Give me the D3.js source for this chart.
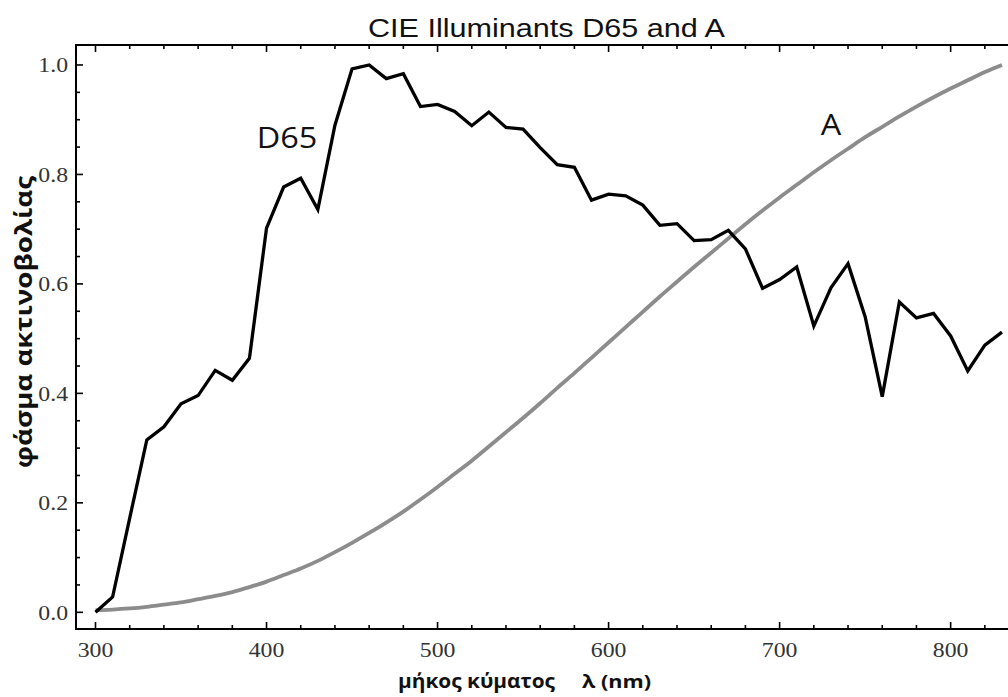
<!DOCTYPE html>
<html>
<head>
<meta charset="utf-8">
<script src="https://cdn.jsdelivr.net/npm/d3@7/dist/d3.min.js"></script>
<style>
  html, body { margin: 0; padding: 0; background: #fff; }
  svg { display: block; }
</style>
</head>
<body>
<svg id="chart" width="1008" height="697"></svg>
<script>
// ---- data ----
const wavelengths = [300,310,320,330,340,350,360,370,380,390,400,410,420,430,440,450,460,470,480,490,
  500,510,520,530,540,550,560,570,580,590,600,610,620,630,640,650,660,670,680,690,
  700,710,720,730,740,750,760,770,780,790,800,810,820,830];
const d65Values = [0.000,0.028,0.172,0.315,0.339,0.381,0.396,0.442,0.424,0.464,
  0.702,0.777,0.793,0.736,0.890,0.993,1.000,0.975,0.984,0.924,
  0.928,0.915,0.889,0.914,0.886,0.883,0.849,0.818,0.813,0.753,
  0.764,0.761,0.744,0.707,0.710,0.679,0.681,0.698,0.664,0.592,
  0.608,0.631,0.523,0.593,0.637,0.540,0.394,0.567,0.538,0.546,
  0.505,0.441,0.488,0.512];
const aValues = [0.004,0.005,0.007,0.010,0.014,0.018,0.024,0.030,0.037,0.046,
  0.056,0.068,0.080,0.094,0.110,0.127,0.145,0.164,0.184,0.206,
  0.229,0.253,0.277,0.303,0.329,0.355,0.382,0.410,0.437,0.465,
  0.493,0.521,0.549,0.577,0.604,0.631,0.657,0.683,0.709,0.734,
  0.758,0.781,0.804,0.826,0.847,0.868,0.887,0.906,0.924,0.941,
  0.957,0.972,0.987,1.000];
const xTickValues = [300,400,500,600,700,800];
const yTickValues = [0.0,0.2,0.4,0.6,0.8,1.0];
const titleText = "CIE Illuminants D65 and A";
const xLabelParts = ["μήκος κύματος", "λ (nm)"];
const yLabel = "φάσμα ακτινοβολίας";
const seriesLabels = [{name: "D65", x: 412, y: 0.848}, {name: "A", x: 730, y: 0.872}];

// ---- layout ----
const svg = d3.select("#chart");
const pLeft = 76, pRight = 1010, pTop = 45, pBottom = 629;
const x = d3.scaleLinear().domain([288.6, 834.7]).range([pLeft, pRight]);
const y = d3.scaleLinear().domain([-0.0305, 1.0365]).range([pBottom, pTop]);
const stretch = 1.08;

const minorX = d3.range(300, 831, 20).filter(v => !xTickValues.includes(v));
const minorY = d3.range(0, 1.001, 0.05).map(v => +v.toFixed(2)).filter(v => !yTickValues.some(t => Math.abs(t - v) < 1e-6));

// frame
const frame = svg.append("g").attr("stroke", "#000").attr("stroke-width", 2);
frame.append("line").attr("x1", pLeft).attr("x2", pLeft).attr("y1", pTop - 1).attr("y2", pBottom + 1);
frame.append("line").attr("x1", pLeft).attr("x2", 1008).attr("y1", pTop).attr("y2", pTop);
frame.append("line").attr("x1", pLeft).attr("x2", 1008).attr("y1", pBottom).attr("y2", pBottom);

// ticks: bottom, top, left (all pointing inward)
const tickG = svg.append("g").attr("stroke", "#000").attr("stroke-width", 1.6);
xTickValues.forEach(v => {
  tickG.append("line").attr("x1", x(v)).attr("x2", x(v)).attr("y1", pBottom).attr("y2", pBottom - 7);
  tickG.append("line").attr("x1", x(v)).attr("x2", x(v)).attr("y1", pTop).attr("y2", pTop + 7);
});
minorX.forEach(v => {
  tickG.append("line").attr("x1", x(v)).attr("x2", x(v)).attr("y1", pBottom).attr("y2", pBottom - 4);
  tickG.append("line").attr("x1", x(v)).attr("x2", x(v)).attr("y1", pTop).attr("y2", pTop + 4);
});
yTickValues.forEach(v => {
  tickG.append("line").attr("x1", pLeft).attr("x2", pLeft + 7).attr("y1", y(v)).attr("y2", y(v));
});
minorY.forEach(v => {
  tickG.append("line").attr("x1", pLeft).attr("x2", pLeft + 4).attr("y1", y(v)).attr("y2", y(v));
});

// tick labels
const labelFont = "'Liberation Serif', 'Times New Roman', serif";
svg.append("g").selectAll("text").data(xTickValues).join("text")
  .attr("transform", d => `translate(${x(d)},657) scale(${stretch},1)`)
  .attr("text-anchor", "middle")
  .attr("font-family", labelFont).attr("font-size", 22).attr("fill", "#333")
  .text(d => d);
svg.append("g").selectAll("text").data(yTickValues).join("text")
  .attr("transform", d => `translate(68,${y(d)}) scale(${stretch},1)`)
  .attr("dy", "0.34em")
  .attr("text-anchor", "end")
  .attr("font-family", labelFont).attr("font-size", 22).attr("fill", "#333")
  .text(d => d.toFixed(1));

// lines
svg.append("clipPath").attr("id", "plotclip").append("rect")
  .attr("x", pLeft).attr("y", pTop).attr("width", pRight - pLeft).attr("height", pBottom - pTop);

const lineGen = vals => d3.line().x((d, i) => x(wavelengths[i])).y(d => y(d))(vals);
const lineSmooth = vals => d3.line().curve(d3.curveMonotoneX).x((d, i) => x(wavelengths[i])).y(d => y(d))(vals);

svg.append("path").attr("d", lineSmooth(aValues))
  .attr("fill", "none").attr("stroke", "#8c8c8c").attr("stroke-width", 3.8)
  .attr("clip-path", "url(#plotclip)");
svg.append("path").attr("d", lineGen(d65Values))
  .attr("fill", "none").attr("stroke", "#000").attr("stroke-width", 3.3)
  .attr("stroke-linejoin", "miter").attr("clip-path", "url(#plotclip)");

// series labels
svg.append("g").selectAll("text").data(seriesLabels).join("text")
  .attr("transform", d => `translate(${x(d.x)},${y(d.y)}) scale(${stretch},1)`)
  .attr("text-anchor", "middle")
  .attr("font-family", "'Open Sans', 'DejaVu Sans', sans-serif").attr("font-size", 30).attr("fill", "#111")
  .text(d => d.name);

// title
svg.append("text").attr("x", 546.5).attr("y", 37).attr("text-anchor", "middle")
  .attr("font-family", "'Liberation Sans', Arial, sans-serif").attr("font-size", 26.5).attr("fill", "#111")
  .attr("textLength", 357).attr("lengthAdjust", "spacingAndGlyphs")
  .text(titleText);

// axis titles
const axisFont = "'Open Sans', 'DejaVu Sans', sans-serif";
svg.append("text").attr("x", 398).attr("y", 688).attr("text-anchor", "start")
  .attr("font-family", axisFont).attr("font-weight", "bold")
  .attr("font-size", 19).attr("fill", "#111")
  .attr("textLength", 157).attr("lengthAdjust", "spacingAndGlyphs")
  .text(xLabelParts[0]);
svg.append("text").attr("x", 582).attr("y", 688).attr("text-anchor", "start")
  .attr("font-family", axisFont).attr("font-weight", "bold")
  .attr("font-size", 18).attr("fill", "#111")
  .attr("textLength", 69).attr("lengthAdjust", "spacingAndGlyphs")
  .text(xLabelParts[1]);
svg.append("text").attr("transform", "translate(32,322) rotate(-90)").attr("text-anchor", "middle")
  .attr("font-family", axisFont).attr("font-weight", "bold")
  .attr("font-size", 23).attr("fill", "#111")
  .attr("textLength", 292).attr("lengthAdjust", "spacingAndGlyphs")
  .text(yLabel);
</script>
</body>
</html>
